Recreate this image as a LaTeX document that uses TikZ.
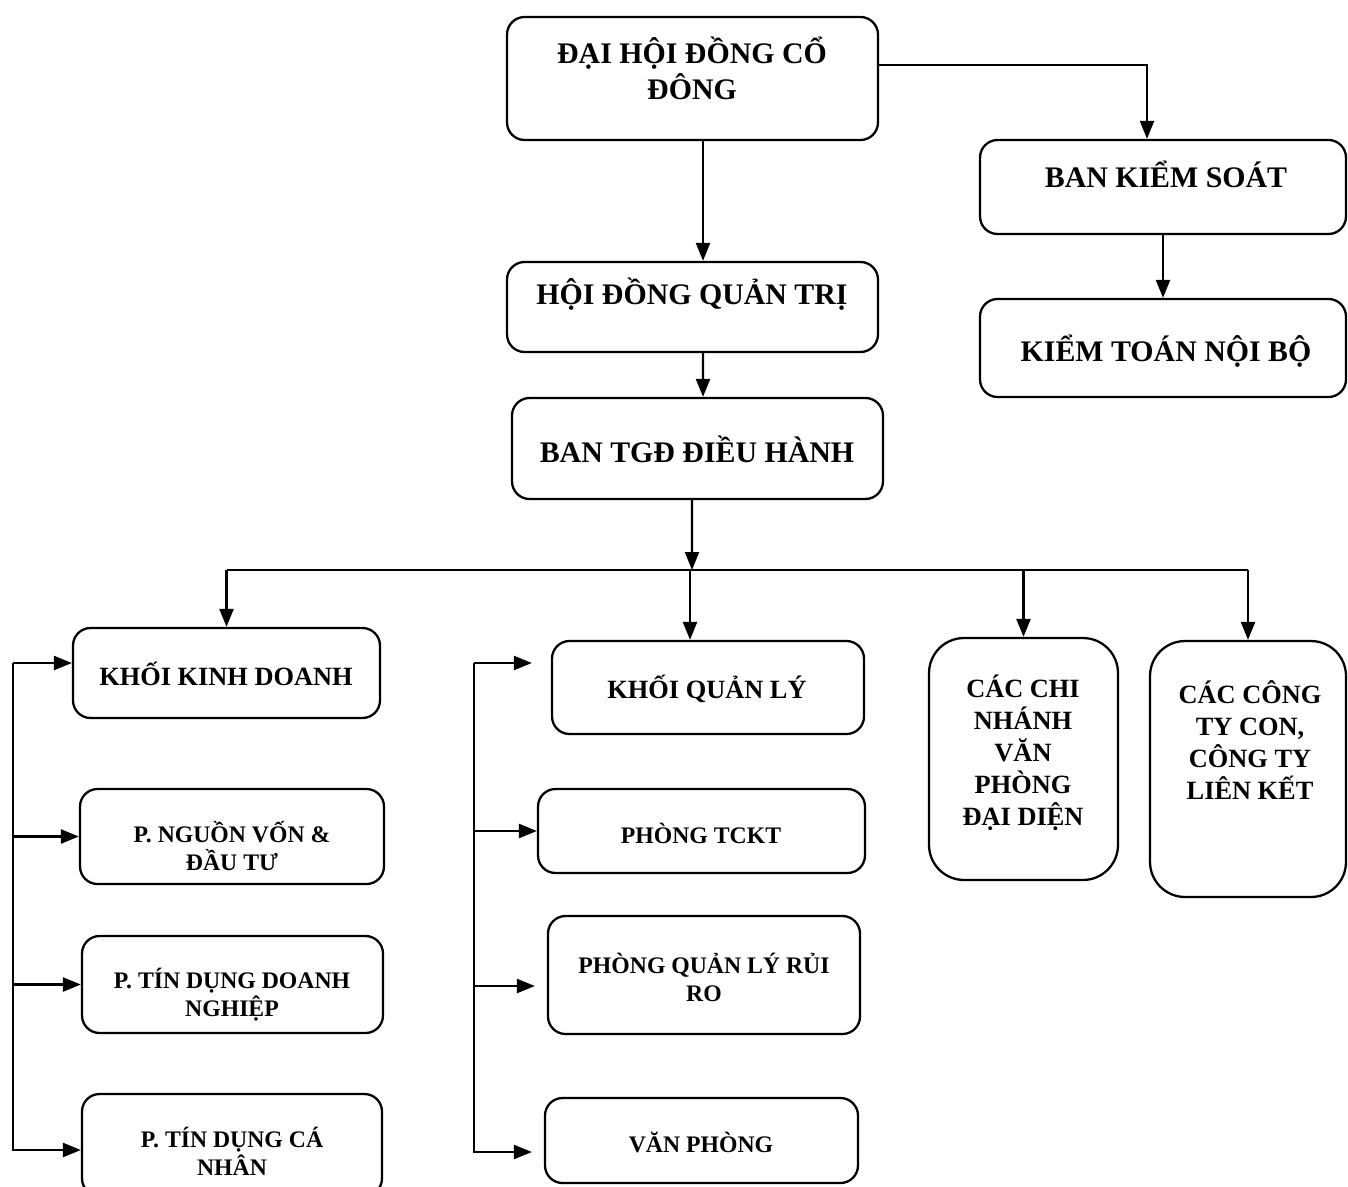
\documentclass[tikz,border=0pt]{standalone}
\usepackage{fontspec}
\setmainfont{Liberation Serif}
\usetikzlibrary{arrows.meta}
\begin{document}
\begin{tikzpicture}[x=0.02cm,y=-0.02cm,
    box/.style={shape=rectangle,draw,line width=1.3pt,rounded corners=0.35cm},
    tallbox/.style={box,rounded corners=0.7cm},
    conn/.style={line width=1.3pt},
    arr/.style={conn,-{Triangle[length=0.36cm,width=0.28cm]}},
    bigf/.style={align=center,font=\fontsize{17}{20.5}\selectfont\bfseries},
    midf/.style={align=center,font=\fontsize{15}{18.2}\selectfont\bfseries},
    smallf/.style={align=center,font=\fontsize{13.5}{16}\selectfont\bfseries}]
    \useasboundingbox (0,0) rectangle (1348,1186);
    \node[box,minimum width=7.42cm,minimum height=2.46cm] (dhdcd) at (692.5,78.5) {};
    \node[box,minimum width=7.32cm,minimum height=1.88cm] (bks)   at (1163,187) {};
    \node[box,minimum width=7.32cm,minimum height=1.96cm] (ktnb)  at (1163,348) {};
    \node[box,minimum width=7.42cm,minimum height=1.8cm]  (hdqt)  at (692.5,307) {};
    \node[box,minimum width=7.42cm,minimum height=2.02cm] (tgd)   at (697.5,448.5) {};
    \node[box,minimum width=6.14cm,minimum height=1.8cm]  (kkd)   at (226.5,673) {};
    \node[box,minimum width=6.08cm,minimum height=1.9cm]  (pnv)   at (232,836.5) {};
    \node[box,minimum width=6.02cm,minimum height=1.94cm] (ptddn) at (232.5,984.5) {};
    \node[box,minimum width=6.0cm,minimum height=2.04cm]  (ptdcn) at (232,1145) {};
    \node[box,minimum width=6.24cm,minimum height=1.86cm] (kql)   at (708,687.5) {};
    \node[box,minimum width=6.54cm,minimum height=1.68cm] (tckt)  at (701.5,831) {};
    \node[box,minimum width=6.24cm,minimum height=2.36cm] (pqlrr) at (704,975) {};
    \node[box,minimum width=6.26cm,minimum height=1.7cm]  (vp)    at (701.5,1140.5) {};
    \node[tallbox,minimum width=3.78cm,minimum height=4.84cm] (ccn) at (1023.5,759) {};
    \node[tallbox,minimum width=3.92cm,minimum height=5.12cm] (cty) at (1248,769) {};

    \node[bigf]   (dhdcd-t) at (692,68)   {ĐẠI HỘI ĐỒNG CỔ\\ĐÔNG};
    \node[bigf]   (bks-t)   at (1166,174) {BAN KIỂM SOÁT};
    \node[bigf]   (ktnb-t)  at (1166,351) {KIỂM TOÁN NỘI BỘ};
    \node[bigf]   (hdqt-t)  at (692,294)  {HỘI ĐỒNG QUẢN TRỊ};
    \node[bigf]   (tgd-t)   at (697,449)  {BAN TGĐ ĐIỀU HÀNH};
    \node[midf]   (kkd-t)   at (226,674)  {KHỐI KINH DOANH};
    \node[smallf] (pnv-t)   at (232,846)  {P. NGUỒN VỐN \&\\ĐẦU TƯ};
    \node[smallf] (ptddn-t) at (232,995)  {P. TÍN DỤNG DOANH\\NGHIỆP};
    \node[smallf] (ptdcn-t) at (232,1151) {P. TÍN DỤNG CÁ\\NHÂN};
    \node[midf]   (kql-t)   at (707,689)  {KHỐI QUẢN LÝ};
    \node[smallf] (tckt-t)  at (701,833)  {PHÒNG TCKT};
    \node[smallf] (pqlrr-t) at (704,977)  {PHÒNG QUẢN LÝ RỦI\\RO};
    \node[smallf] (vp-t)    at (701,1142) {VĂN PHÒNG};
    \node[midf]   (ccn-t)   at (1023,753) {CÁC CHI\\NHÁNH\\VĂN\\PHÒNG\\ĐẠI DIỆN};
    \node[midf]   (cty-t)   at (1250,740) {CÁC CÔNG\\TY CON,\\CÔNG TY\\LIÊN KẾT};

    \coordinate (bus) at (692,570);
    \coordinate (ltop) at (13,663);
    \coordinate (mtop) at (474,663);
    \coordinate (kqlin) at ([xshift=-0.36cm]kql.north);

    \draw[arr] ([xshift=0.21cm]dhdcd.south) -- ([xshift=0.21cm]hdqt.north);
    \draw[arr] ([yshift=0.27cm]dhdcd.east) -| ([xshift=-0.32cm]bks.north);
    \draw[arr] (bks.south) -- (ktnb.north);
    \draw[arr] ([xshift=0.21cm]hdqt.south) -- ([xshift=0.11cm]tgd.north);
    \draw[arr] ([xshift=-0.11cm]tgd.south) -- (bus);
    \draw[conn] (kkd.north |- bus) -- (cty.north |- bus);
    \draw[arr] (kkd.north |- bus) -- (kkd.north);
    \draw[arr] (kqlin |- bus) -- (kqlin);
    \draw[arr] (ccn.north |- bus) -- (ccn.north);
    \draw[arr] (cty.north |- bus) -- (cty.north);

    \draw[arr] (ltop) -- (ltop -| kkd.west);
    \draw[arr] (ltop |- pnv.west) -- (pnv.west);
    \draw[arr] (ltop |- ptddn.west) -- (ptddn.west);
    \draw[arr] (ltop) |- ([yshift=-0.1cm]ptdcn.west);

    \draw[arr,shorten >=0.38cm] (mtop) -- (mtop -| kql.west);
    \draw[arr] (mtop |- tckt.west) -- (tckt.west);
    \draw[arr,shorten >=0.24cm] ([yshift=-0.22cm]mtop |- pqlrr.west) -- ([yshift=-0.22cm]pqlrr.west);
    \draw[arr,shorten >=0.24cm] (mtop) |- ([yshift=-0.23cm]vp.west);
\end{tikzpicture}
\end{document}
